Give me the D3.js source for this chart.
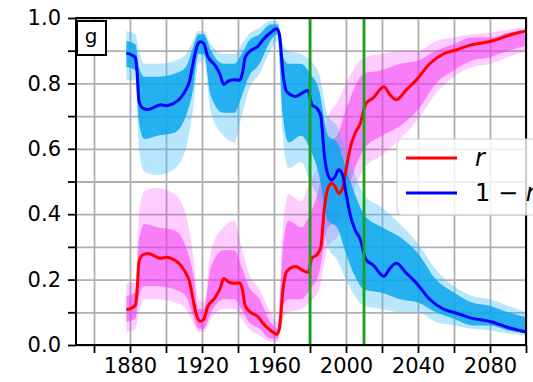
<!DOCTYPE html>
<html>
<head>
<meta charset="utf-8">
<script src="https://cdn.jsdelivr.net/npm/d3@7"></script>
<style>
  body { margin: 0; background: #fff; overflow: hidden; }
  svg { display: block; }
  text { font-family: "DejaVu Sans", sans-serif; }
</style>
</head>
<body>
<div id="plot"></div>
<script>
// mean trajectory r(t)
const years = [1878, 1881, 1883, 1884, 1885, 1887, 1890, 1893, 1897, 1900, 1904, 1908, 1911, 1913, 1915, 1917, 1919, 1921, 1923, 1927, 1930, 1932, 1935, 1938, 1941, 1942.5, 1944, 1947, 1951, 1954, 1958, 1961.5, 1963, 1965, 1967, 1972, 1976, 1979, 1981, 1984, 1986, 1988, 1990, 1992, 1994, 1996, 1998, 2000, 2002.5, 2005, 2008, 2011, 2015, 2021, 2024.5, 2028, 2033.5, 2039, 2046.5, 2054, 2061, 2069, 2080, 2091, 2100];
const rMean = [0.108, 0.113, 0.122, 0.17, 0.255, 0.275, 0.28, 0.274, 0.265, 0.268, 0.262, 0.245, 0.22, 0.195, 0.14, 0.09, 0.073, 0.078, 0.115, 0.143, 0.172, 0.203, 0.192, 0.189, 0.19, 0.168, 0.12, 0.1, 0.087, 0.066, 0.045, 0.033, 0.05, 0.17, 0.225, 0.24, 0.228, 0.222, 0.265, 0.277, 0.30, 0.42, 0.48, 0.495, 0.484, 0.464, 0.478, 0.535, 0.606, 0.647, 0.678, 0.738, 0.755, 0.79, 0.765, 0.75, 0.78, 0.81, 0.86, 0.89, 0.902, 0.917, 0.928, 0.948, 0.96];

// spread of the ensemble runs of r (outer = faint lines, inner = dense core)
const envYears = [1878, 1883, 1885, 1888, 1895, 1905, 1911, 1915, 1918, 1921, 1925, 1932, 1938, 1942, 1946, 1952, 1958, 1962, 1965, 1968, 1975, 1980, 1985, 1990, 1995, 2000, 2005, 2010, 2020, 2030, 2040, 2050, 2060, 2070, 2080, 2090, 2100];
const rOuterLo = [0.04, 0.05, 0.10, 0.14, 0.14, 0.13, 0.11, 0.07, 0.04, 0.04, 0.08, 0.11, 0.11, 0.08, 0.05, 0.03, 0.01, 0.01, 0.08, 0.10, 0.11, 0.13, 0.17, 0.30, 0.33, 0.40, 0.48, 0.54, 0.58, 0.63, 0.69, 0.77, 0.82, 0.85, 0.86, 0.88, 0.90];
const rInnerLo = [0.07, 0.08, 0.15, 0.18, 0.18, 0.17, 0.15, 0.09, 0.05, 0.05, 0.10, 0.14, 0.14, 0.11, 0.07, 0.05, 0.02, 0.02, 0.12, 0.14, 0.14, 0.17, 0.22, 0.36, 0.38, 0.46, 0.54, 0.60, 0.64, 0.67, 0.72, 0.80, 0.84, 0.87, 0.88, 0.90, 0.915];
const rInnerHi = [0.15, 0.16, 0.32, 0.37, 0.36, 0.35, 0.30, 0.22, 0.11, 0.11, 0.24, 0.29, 0.29, 0.24, 0.18, 0.14, 0.07, 0.05, 0.30, 0.38, 0.36, 0.40, 0.48, 0.62, 0.64, 0.72, 0.79, 0.83, 0.84, 0.86, 0.87, 0.90, 0.92, 0.94, 0.94, 0.955, 0.965];
const rOuterHi = [0.19, 0.19, 0.40, 0.47, 0.48, 0.46, 0.40, 0.28, 0.14, 0.13, 0.29, 0.36, 0.38, 0.30, 0.22, 0.17, 0.10, 0.07, 0.36, 0.46, 0.44, 0.50, 0.56, 0.70, 0.74, 0.80, 0.85, 0.88, 0.89, 0.90, 0.90, 0.93, 0.94, 0.95, 0.955, 0.965, 0.97];

const markYears = [1980, 2010];
const xTicks = d3.range(1860, 2101, 20);
const xLabels = [1880, 1920, 1960, 2000, 2040, 2080];
const yTicks = d3.range(0, 11).map(d => d / 10);
const yLabels = [0, 0.2, 0.4, 0.6, 0.8, 1.0];

const w = 533;
const h = 382;
const margin = {top: 18, right: 7, bottom: 37, left: 76};
const innerWidth = w - margin.left - margin.right;
const innerHeight = h - margin.top - margin.bottom;

const svg = d3.select("div#plot")
    .append("svg")
    .attr("width", w)
    .attr("height", h);

const xScale = d3.scaleLinear()
    .domain([1850, 2100])
    .range([0, innerWidth]);

const yScale = d3.scaleLinear()
    .domain([0, 1])
    .range([innerHeight, 0]);

const g = svg.append("g")
    .attr("transform", `translate(${margin.left}, ${margin.top})`);

g.append("clipPath").attr("id", "clip")
  .append("rect")
    .attr("width", innerWidth)
    .attr("height", innerHeight);

// grid
g.append("g")
    .attr("class", "grid")
    .attr("transform", `translate(0, ${innerHeight})`)
    .call(d3.axisBottom(xScale).tickValues(xTicks).tickSize(-innerHeight).tickFormat(""));
g.append("g")
    .attr("class", "grid")
    .call(d3.axisLeft(yScale).tickValues(yTicks).tickSize(-innerWidth).tickFormat(""));
g.selectAll(".grid .domain").remove();
g.selectAll(".grid text").remove();
g.selectAll(".grid line")
    .attr("stroke", "#b0b0b0")
    .attr("stroke-width", 1.8);

const plot = g.append("g").attr("clip-path", "url(#clip)");

const env = envYears.map((yr, i) => ({yr, olo: rOuterLo[i], ilo: rInnerLo[i], ihi: rInnerHi[i], ohi: rOuterHi[i]}));

function band(lo, hi) {
  return d3.area()
      .x(d => xScale(d.yr))
      .y0(d => yScale(lo(d)))
      .y1(d => yScale(hi(d)))
      .curve(d3.curveMonotoneX)(env);
}

// ensemble of r (magenta)
plot.append("path").attr("d", band(d => d.olo, d => d.ohi)).attr("fill", "#ff00ff").attr("opacity", 0.2);
plot.append("path").attr("d", band(d => d.ilo, d => d.ihi)).attr("fill", "#f23cf2").attr("opacity", 0.55);

// ensemble of 1 - r (sky blue)
plot.append("path").attr("d", band(d => 1 - d.olo, d => 1 - d.ohi)).attr("fill", "#33b8f5").attr("opacity", 0.35);
plot.append("path").attr("d", band(d => 1 - d.ilo, d => 1 - d.ihi)).attr("fill", "#0aa6ef").attr("opacity", 0.85);

const meanData = years.map((yr, i) => ({yr, r: rMean[i]}));

const line = d3.line()
    .x(d => xScale(d.yr))
    .y(d => yScale(d.v))
    .curve(d3.curveMonotoneX);

plot.append("path")
    .attr("d", line(meanData.map(d => ({yr: d.yr, v: d.r}))))
    .attr("fill", "none")
    .attr("stroke", "#ff0000")
    .attr("stroke-width", 3);

plot.append("path")
    .attr("d", line(meanData.map(d => ({yr: d.yr, v: 1 - d.r}))))
    .attr("fill", "none")
    .attr("stroke", "#0000ff")
    .attr("stroke-width", 3);

plot.selectAll(".mark")
    .data(markYears)
  .enter().append("line")
    .attr("class", "mark")
    .attr("x1", d => xScale(d))
    .attr("x2", d => xScale(d))
    .attr("y1", 0)
    .attr("y2", innerHeight)
    .attr("stroke", "#17a317")
    .attr("stroke-width", 2.8);

// axes
const xAxis = d3.axisBottom(xScale)
    .tickValues(xTicks)
    .tickSize(8)
    .tickPadding(5)
    .tickFormat(d => xLabels.includes(d) ? d : "");

const yAxis = d3.axisLeft(yScale)
    .tickValues(yTicks)
    .tickSize(8)
    .tickPadding(7)
    .tickFormat(d => yLabels.some(v => Math.abs(v - d) < 1e-9) ? d3.format(".1f")(d) : "");

const xg = g.append("g")
    .attr("transform", `translate(0, ${innerHeight})`)
    .call(xAxis);
const yg = g.append("g")
    .call(yAxis);

[xg, yg].forEach(a => {
  a.select(".domain").remove();
  a.selectAll("text").filter(function() { return this.textContent === ""; }).remove();
  a.selectAll("line").attr("stroke", "#000").attr("stroke-width", 1.8);
  a.selectAll("text").attr("font-size", 21).attr("fill", "#000");
});

// frame
g.append("rect")
    .attr("width", innerWidth)
    .attr("height", innerHeight)
    .attr("fill", "none")
    .attr("stroke", "#000")
    .attr("stroke-width", 2);

// panel label
g.append("rect")
    .attr("x", 1)
    .attr("y", 3)
    .attr("width", 29)
    .attr("height", 34)
    .attr("fill", "#fff")
    .attr("stroke", "#000")
    .attr("stroke-width", 2);
g.append("text")
    .attr("x", 15)
    .attr("y", 25)
    .attr("text-anchor", "middle")
    .attr("font-size", 20)
    .text("g");

// legend (runs off the right side)
const legend = svg.append("g").attr("transform", "translate(397, 139)");
legend.append("rect")
    .attr("width", 170)
    .attr("height", 76)
    .attr("rx", 5)
    .attr("fill", "#fff")
    .attr("fill-opacity", 0.8)
    .attr("stroke", "#d0d0d0")
    .attr("stroke-width", 1.2);

const items = [{color: "#ff0000", pre: ""}, {color: "#0000ff", pre: "1 \u2212 "}];
items.forEach((it, i) => {
  const yy = 19 + i * 35;
  legend.append("line")
      .attr("x1", 9)
      .attr("x2", 60)
      .attr("y1", yy)
      .attr("y2", yy)
      .attr("stroke", it.color)
      .attr("stroke-width", 3);
  const t = legend.append("text")
      .attr("x", 78)
      .attr("y", yy + 8)
      .attr("font-size", 24);
  if (it.pre) t.append("tspan").text(it.pre);
  t.append("tspan").attr("font-style", "italic").text("r");
});
</script>
</body>
</html>
